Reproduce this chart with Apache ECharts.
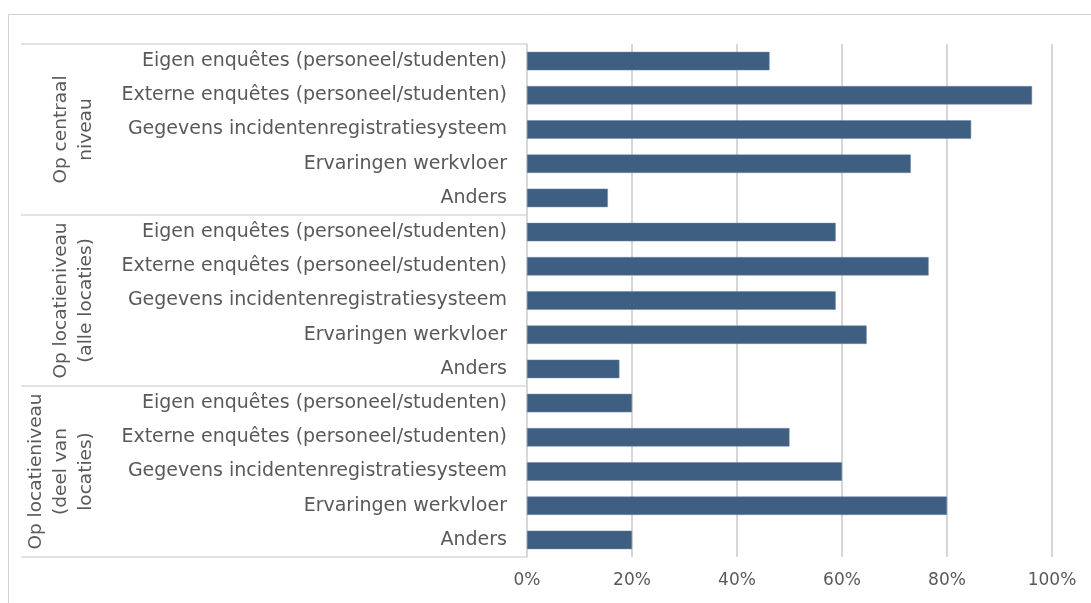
<!DOCTYPE html>
<html>
<head>
<meta charset="utf-8">
<script src="https://cdn.jsdelivr.net/npm/echarts@6/dist/echarts.min.js"></script>
<style>
  html, body { margin: 0; padding: 0; background: #fff; }
  #chart { width: 1091px; height: 603px; }
</style>
</head>
<body>
<div id="chart"></div>
<script>
// groepen (labels links, gedraaid)
const groups = ['Op centraal\nniveau', 'Op locatieniveau\n(alle locaties)', 'Op locatieniveau\n(deel van\nlocaties)'];

// bronnen per groep
const items = [
    'Eigen enquêtes (personeel/studenten)',
    'Externe enquêtes (personeel/studenten)',
    'Gegevens incidentenregistratiesysteem',
    'Ervaringen werkvloer',
    'Anders'
];

// percentages
const centraal = [46.2, 96.2, 84.6, 73.1, 15.4];
const alleLocaties = [58.8, 76.5, 58.8, 64.7, 17.6];
const deelLocaties = [20, 50, 60, 80, 20];

const xTicks = [0, 20, 40, 60, 80, 100];

// 15 rijen: elke groep krijgt dezelfde 5 bronnen
const categories = [].concat(items, items, items);
const values = [].concat(centraal, alleLocaties, deelLocaties);

const textColor = '#595959';
const lineColor = '#d9d9d9';
const font = 'DejaVu Sans';

const chart = echarts.init(document.getElementById('chart'));

chart.setOption({
    animation: false,
    textStyle: { fontFamily: font },
    graphic: [{
        type: 'rect',
        shape: { x: 8.5, y: 14.5, width: 2000, height: 2000 },
        style: { fill: 'none', stroke: '#d0d0d0', lineWidth: 1 },
        silent: true
    }],
    grid: { left: 527, top: 44, width: 525, height: 513 },
    xAxis: {
        type: 'value',
        min: xTicks[0],
        max: xTicks[xTicks.length - 1],
        interval: 20,
        axisLine: { show: false },
        axisTick: { show: false },
        splitLine: { lineStyle: { color: '#c8c8c8', width: 1.5 } },
        axisLabel: {
            formatter: '{value}%',
            color: textColor,
            fontSize: 17,
            fontFamily: font,
            margin: 15
        }
    },
    yAxis: [{
        type: 'category',
        data: categories,
        inverse: true,
        axisLine: { show: true, lineStyle: { color: lineColor } },
        axisTick: { show: false },
        axisLabel: {
            interval: 0,
            color: textColor,
            fontSize: 19,
            fontFamily: font,
            margin: 20
        }
    }, {
        type: 'category',
        data: groups,
        inverse: true,
        position: 'left',
        axisLine: { show: false },
        axisTick: { show: true, interval: 0, length: 506, lineStyle: { color: lineColor, width: 1.5 } },
        axisLabel: {
            interval: 0,
            rotate: 90,
            color: textColor,
            fontSize: 18.5,
            fontFamily: font,
            lineHeight: 25,
            margin: 428
        }
    }],
    series: [{
        type: 'bar',
        yAxisIndex: 0,
        data: values,
        barCategoryGap: '46%',
        itemStyle: { color: '#3e5e82', borderColor: '#6f89a6', borderWidth: 0.5 }
    }]
});
</script>
</body>
</html>
